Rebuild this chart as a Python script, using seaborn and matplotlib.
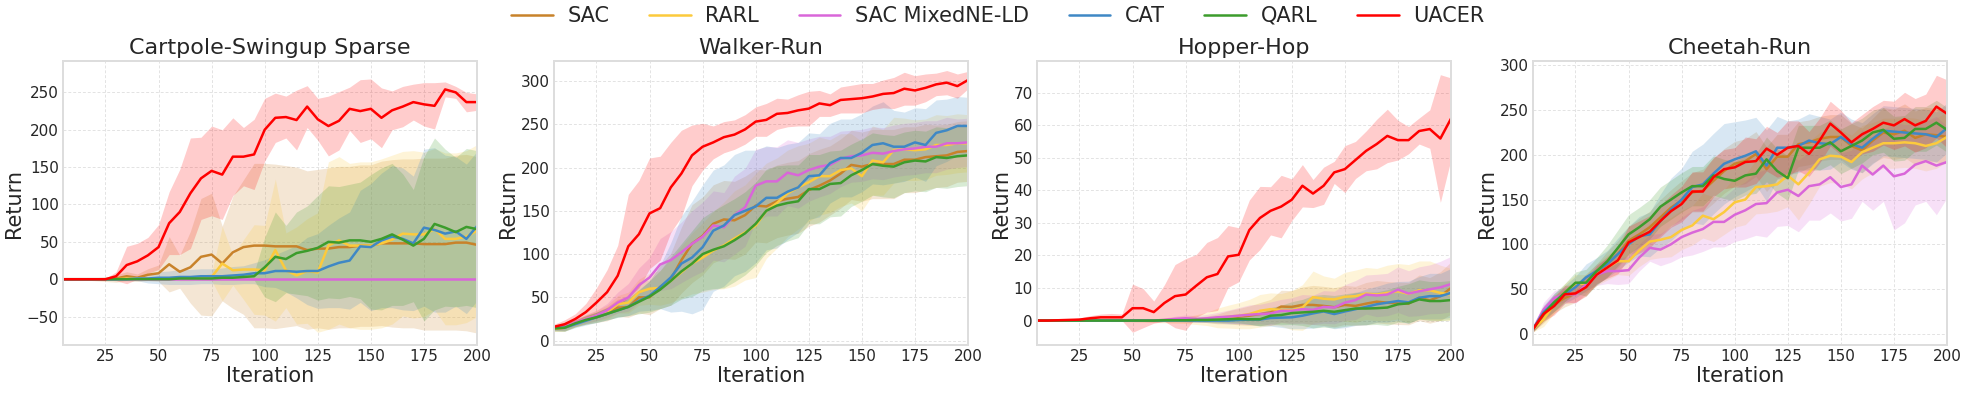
import numpy as np
import seaborn as sns
import matplotlib.pyplot as plt

# iterations (every 5)
iters = list(range(5, 205, 5))

methods = ["SAC", "RARL", "SAC MixedNE-LD", "CAT", "QARL", "UACER"]
colors = ["#c8822a", "#fcca3c", "#d966d9", "#3f88c5", "#3c9c2c", "#ff0000"]

# Cartpole-Swingup Sparse
cp_sac = [0, 0, 0, 0, 0, 1, 4, 2, 6, 8, 20, 10, 16, 30, 33, 21, 36, 43, 45, 45,
          44, 44, 44, 39, 41, 41, 43, 43, 45, 45, 48, 48, 48, 48, 47, 47, 47, 49, 49, 46]
cp_sac_sd = [0, 1, 1, 2, 3, 5, 6, 5, 8, 11, 37, 22, 48, 78, 82, 50, 75, 90, 110, 110,
             110, 108, 106, 106, 106, 108, 108, 108, 108, 108, 110, 112, 113, 113, 115, 115, 115, 117, 118, 118]
cp_rarl = [0, 0, 0, 0, 0, 0, 1, 1, 1, 1, 1, 1, 1, 2, 3, 21, 12, 13, 13, 12,
           39, 12, 5, 11, 9, 45, 52, 45, 45, 45, 48, 53, 61, 60, 60, 67, 54, 54, 57, 65]
cp_rarl_sd = [0, 0, 0, 0, 0, 1, 1, 1, 2, 2, 2, 3, 3, 3, 5, 50, 20, 40, 60, 60,
              95, 50, 65, 70, 80, 112, 112, 110, 112, 112, 113, 113, 110, 112, 110, 108, 115, 115, 115, 115]
cp_mix = [0] * 40
cp_mix_sd = [0] * 40
cp_cat = [0, 0, 0, 0, 0, 0, 0, 1, 1, 2, 2, 3, 3, 4, 4, 4, 5, 6, 8, 8,
          11, 11, 10, 11, 11, 17, 22, 25, 44, 43, 52, 57, 54, 48, 69, 66, 61, 64, 54, 71]
cp_cat_sd = [0, 0, 0, 0, 0, 1, 2, 3, 6, 8, 9, 10, 10, 10, 10, 11, 12, 12, 14, 18,
             22, 28, 35, 45, 50, 55, 60, 65, 75, 85, 90, 95, 95, 90, 105, 110, 105, 100, 100, 100]
cp_qarl = [0, 0, 0, 0, 0, 0, 0, 0, 0, 0, 0, 1, 1, 1, 1, 2, 2, 3, 4, 16,
           30, 27, 35, 38, 42, 50, 49, 52, 52, 50, 54, 60, 53, 45, 54, 74, 69, 63, 70, 67]
cp_qarl_sd = [0, 0, 0, 0, 0, 0, 0, 0, 1, 1, 1, 1, 1, 2, 2, 2, 2, 3, 5, 40,
              60, 45, 55, 60, 70, 75, 75, 75, 78, 90, 95, 95, 88, 75, 110, 115, 105, 100, 105, 105]
cp_uacer = [0, 0, 0, 0, 0, 4, 19, 24, 32, 43, 75, 90, 115, 135, 145, 140, 164, 164, 167, 200,
            216, 217, 213, 231, 214, 205, 212, 228, 225, 228, 216, 226, 231, 237, 234, 232, 254, 250, 237, 237]
cp_uacer_sd = [0, 0, 0, 1, 1, 6, 25, 24, 24, 30, 42, 57, 74, 55, 60, 60, 52, 39, 47, 42,
               33, 28, 40, 28, 28, 40, 39, 29, 42, 40, 40, 26, 27, 24, 29, 31, 10, 8, 13, 11]

# Walker-Run
wr_sac = [14, 15, 20, 24, 27, 31, 38, 39, 50, 50, 62, 71, 93, 112, 121, 135, 140, 139, 145, 156,
          155, 161, 164, 166, 174, 179, 185, 193, 203, 201, 204, 204, 204, 209, 209, 212, 213, 214, 218, 219]
wr_sac_sd = [3, 4, 4, 5, 6, 8, 10, 12, 18, 20, 25, 30, 38, 45, 45, 45, 45, 45, 45, 42,
             42, 42, 42, 42, 42, 42, 40, 40, 40, 40, 40, 40, 40, 38, 38, 38, 36, 36, 35, 35]
wr_rarl = [14, 15, 20, 25, 29, 33, 42, 44, 56, 60, 61, 69, 79, 89, 96, 104, 110, 118, 125, 133,
           150, 159, 170, 177, 183, 190, 190, 197, 199, 190, 208, 206, 220, 221, 220, 221, 226, 226, 228, 228]
wr_rarl_sd = [3, 4, 4, 5, 6, 8, 10, 12, 15, 18, 20, 25, 30, 35, 40, 45, 50, 55, 55, 60,
              55, 52, 50, 48, 45, 45, 42, 42, 40, 40, 40, 38, 38, 36, 35, 35, 35, 34, 34, 33]
wr_mix = [15, 16, 21, 25, 29, 35, 44, 50, 64, 73, 88, 93, 102, 112, 120, 133, 131, 145, 154, 179,
          184, 184, 194, 191, 197, 201, 203, 210, 213, 214, 217, 216, 219, 221, 222, 224, 224, 228, 228, 229]
wr_mix_sd = [3, 4, 4, 5, 6, 8, 12, 16, 20, 23, 30, 33, 35, 38, 40, 40, 40, 45, 45, 42,
             40, 40, 38, 38, 36, 35, 33, 32, 30, 30, 30, 30, 30, 30, 30, 30, 30, 30, 28, 28]
wr_cat = [15, 15, 19, 23, 27, 31, 35, 39, 46, 52, 62, 73, 89, 96, 108, 127, 133, 145, 150, 155,
          165, 165, 172, 177, 190, 191, 205, 211, 211, 217, 226, 228, 224, 224, 229, 226, 240, 243, 248, 248]
wr_cat_sd = [3, 4, 4, 5, 6, 7, 8, 10, 12, 17, 25, 40, 55, 65, 72, 70, 70, 70, 70, 65,
             60, 58, 55, 52, 50, 48, 46, 45, 45, 45, 45, 48, 42, 40, 40, 42, 38, 36, 34, 33]
wr_qarl = [14, 15, 20, 24, 27, 31, 35, 39, 45, 51, 59, 69, 80, 89, 100, 105, 109, 116, 124, 135,
           150, 156, 159, 161, 175, 175, 181, 182, 191, 197, 204, 202, 201, 206, 208, 207, 212, 211, 213, 214]
wr_qarl_sd = [3, 4, 4, 5, 6, 7, 8, 10, 14, 18, 22, 28, 32, 38, 42, 45, 48, 48, 48, 48,
              48, 46, 44, 42, 40, 40, 38, 38, 36, 36, 36, 36, 36, 35, 35, 35, 35, 35, 35, 35]
wr_uacer = [16, 19, 25, 33, 44, 56, 75, 109, 123, 147, 153, 177, 193, 214, 224, 229, 235, 238, 244, 253,
            255, 262, 263, 266, 268, 274, 272, 278, 279, 280, 282, 285, 286, 291, 289, 292, 296, 298, 294, 301]
wr_uacer_sd = [3, 5, 6, 10, 17, 26, 35, 60, 62, 64, 60, 52, 50, 35, 27, 19, 18, 17, 17, 17,
               19, 18, 16, 18, 20, 15, 13, 15, 16, 17, 15, 16, 18, 19, 17, 16, 13, 14, 14, 10]

# Hopper-Hop
hh_sac = [0, 0, 0, 0, 0, 0, 0, 0, 0, 0, 0, 0, 0.1, 0.2, 0.3, 0.3, 0.4, 0.5, 1, 1.2,
          1.5, 2, 2.5, 4.3, 4.2, 4.8, 4.8, 4.5, 4.1, 4.8, 4.5, 5.2, 5.8, 5.5, 5.3, 5.2, 7, 6.2, 7.5, 10]
hh_sac_sd = [0, 0, 0, 0, 0, 0.1, 0.1, 0.2, 0.2, 0.3, 0.3, 0.4, 0.5, 0.6, 0.7, 0.8, 1, 1.5, 2, 2.5,
             3, 3.5, 4, 5, 5, 5.5, 6, 6, 6, 6, 6, 6.5, 6.5, 6.5, 6.5, 6.5, 7, 7, 7.5, 8]
hh_rarl = [0, 0, 0, 0, 0, 0, 0, 0, 0, 0, 0, 0, 0, 0, 0.1, 0.3, 0.5, 0.8, 1.2, 1.5,
           2, 3, 3.5, 3.3, 3.2, 4, 7.2, 6.7, 6.5, 7.3, 7.5, 8.3, 8, 8.5, 9, 8.2, 9.3, 9.3, 8.5, 8]
hh_rarl_sd = [0, 0, 0, 0.1, 0.1, 0.2, 0.2, 0.3, 0.3, 0.4, 0.5, 0.6, 0.7, 0.8, 1, 1.5, 2, 3, 3.5, 4,
              4.5, 5, 5, 5, 6, 7, 8, 7, 6.5, 7.5, 8, 8, 8, 8.5, 8.5, 9, 9, 9, 8.5, 8]
hh_mix = [0, 0, 0, 0, 0, 0, 0, 0, 0, 0, 0, 0, 0.2, 0.5, 0.7, 0.5, 0.7, 1, 1.2, 1.5,
          1.8, 2, 2.2, 3, 3, 3.5, 3.3, 4.2, 4, 5.5, 6.3, 8, 7.7, 8, 9.5, 8.3, 9, 9.6, 10.2, 11.2]
hh_mix_sd = [0, 0, 0, 0, 0, 0.1, 0.1, 0.2, 0.2, 0.3, 0.3, 0.5, 0.6, 0.8, 1, 1, 1.2, 1.5, 2, 2.5,
             3, 3, 3.5, 3.5, 4, 4.5, 4.5, 5, 5, 5.5, 6, 6, 6.5, 6.5, 7, 7, 7.5, 7.5, 8, 8.5]
hh_cat = [0, 0, 0, 0, 0, 0, 0, 0, 0, 0, 0, 0, 0, 0, 0, 0, 0, 0, 0, 0.2,
          0.3, 0.3, 0.8, 0.9, 1, 1.5, 2.2, 2.8, 2, 2.8, 3.5, 4.2, 5, 5.5, 6, 5.6, 7, 7.5, 7.5, 8.5]
hh_cat_sd = [0, 0, 0, 0, 0, 0, 0, 0, 0.1, 0.1, 0.2, 0.2, 0.3, 0.3, 0.4, 0.5, 0.6, 0.8, 1, 1.2,
             1.5, 2, 2.5, 3, 3.5, 4, 4.5, 4.5, 4.5, 5, 5, 5.5, 5.5, 6, 6, 6.5, 6.5, 7, 7, 7.5]
hh_qarl = [0, 0, 0, 0, 0, 0, 0, 0, 0, 0, 0, 0, 0.1, 0.1, 0.1, 0.2, 0.2, 0.3, 0.4, 0.5,
           0.4, 0.4, 1.5, 1.7, 2.3, 2.5, 2.7, 3, 2.7, 3.2, 3.7, 3.7, 3.8, 4, 5, 5.3, 6.5, 6, 6, 6.3]
hh_qarl_sd = [0, 0, 0, 0, 0, 0, 0, 0, 0.1, 0.1, 0.2, 0.2, 0.3, 0.3, 0.4, 0.5, 0.6, 0.8, 1, 1.2,
              1.5, 2, 2.5, 3, 3.5, 4, 5, 5, 5, 5, 5, 5, 5, 5.5, 5.5, 6, 6, 6, 6, 6]
hh_uacer = [0, 0, 0.1, 0.2, 0.3, 0.7, 1, 1, 1, 3.8, 3.8, 2.6, 5.4, 7.5, 8, 10.7, 13.3, 14.3, 19.7, 20.2,
            27.8, 31.5, 33.7, 35, 37.1, 41.4, 39, 41.4, 45.5, 46.5, 49.3, 52.1, 54.2, 56.7, 55.4, 55.4, 58.2, 58.8, 55.9, 62]
hh_uacer_sd = [0, 0.1, 0.2, 0.3, 0.5, 0.8, 1, 1.2, 1, 7.4, 6, 3.4, 5.6, 9.7, 11, 9.6, 10.7, 11.2, 9.5, 8.3,
               9.2, 9.7, 7.4, 9.6, 6.4, 6.5, 4.3, 5.7, 3.4, 7.2, 5.7, 6.1, 7.6, 8.2, 6.1, 4.2, 4, 5.9, 19.6, 12.5]

# Cheetah-Run
ch_sac = [5, 20, 33, 40, 45, 55, 66, 78, 89, 104, 111, 119, 130, 141, 149, 158, 160, 171, 182, 190,
          193, 201, 184, 198, 198, 212, 214, 218, 220, 220, 210, 205, 216, 225, 223, 227, 219, 223, 222, 220]
ch_sac_sd = [3, 8, 10, 10, 10, 12, 12, 14, 15, 16, 18, 18, 20, 20, 22, 22, 24, 25, 25, 25,
             25, 25, 25, 25, 25, 25, 25, 25, 25, 25, 25, 25, 25, 28, 28, 30, 30, 30, 30, 30]
ch_rarl = [5, 16, 33, 46, 56, 56, 66, 74, 81, 81, 93, 103, 105, 108, 116, 121, 132, 128, 136, 147,
           150, 164, 165, 167, 177, 167, 180, 195, 199, 198, 192, 203, 208, 213, 213, 214, 213, 210, 213, 220]
ch_rarl_sd = [3, 8, 10, 10, 10, 10, 12, 14, 15, 16, 18, 20, 20, 22, 22, 22, 25, 25, 25, 28,
              28, 30, 30, 30, 35, 40, 35, 30, 30, 30, 30, 30, 28, 28, 28, 28, 28, 28, 28, 28]
ch_mix = [5, 27, 40, 44, 44, 55, 66, 70, 70, 71, 85, 96, 94, 100, 108, 113, 117, 125, 125, 133,
          138, 145, 146, 158, 161, 154, 165, 167, 175, 164, 167, 188, 178, 188, 176, 179, 189, 193, 188, 192]
ch_mix_sd = [3, 8, 8, 8, 10, 10, 12, 14, 15, 15, 15, 15, 18, 20, 22, 25, 25, 28, 28, 30,
             32, 35, 38, 38, 40, 40, 38, 40, 40, 38, 38, 40, 40, 40, 60, 55, 45, 45, 55, 40]
ch_cat = [5, 24, 35, 44, 52, 63, 70, 78, 89, 100, 109, 111, 126, 139, 150, 164, 167, 179, 190, 195,
          199, 204, 188, 208, 208, 210, 216, 213, 212, 220, 212, 208, 218, 227, 226, 225, 224, 223, 220, 230]
ch_cat_sd = [3, 8, 10, 10, 12, 15, 15, 15, 18, 20, 22, 25, 30, 35, 35, 40, 45, 45, 45, 42,
             40, 38, 40, 35, 30, 30, 30, 30, 28, 28, 28, 28, 28, 28, 28, 28, 28, 28, 28, 28]
ch_qarl = [5, 22, 35, 46, 57, 57, 70, 81, 96, 111, 119, 128, 142, 150, 158, 165, 165, 177, 173, 171,
           177, 179, 195, 182, 174, 208, 208, 208, 214, 204, 210, 216, 225, 228, 218, 219, 229, 229, 236, 228]
ch_qarl_sd = [3, 8, 10, 10, 12, 15, 15, 18, 20, 22, 22, 22, 22, 22, 22, 22, 22, 22, 22, 22,
              22, 22, 25, 25, 25, 25, 25, 25, 25, 25, 25, 25, 25, 25, 25, 25, 25, 25, 25, 25]
ch_uacer = [5, 22, 31, 44, 45, 52, 66, 74, 82, 102, 108, 114, 126, 137, 145, 159, 159, 175, 184, 186,
            192, 193, 207, 200, 208, 210, 201, 216, 235, 225, 214, 223, 229, 236, 233, 240, 233, 238, 254, 246]
ch_uacer_sd = [3, 8, 10, 10, 10, 10, 10, 12, 15, 18, 18, 18, 18, 18, 20, 22, 22, 22, 22, 22,
               28, 25, 25, 25, 30, 28, 25, 25, 25, 25, 22, 22, 25, 25, 27, 30, 30, 30, 35, 38]

panels = [
    ("Cartpole-Swingup Sparse", [(cp_sac, cp_sac_sd), (cp_rarl, cp_rarl_sd), (cp_mix, cp_mix_sd),
                                 (cp_cat, cp_cat_sd), (cp_qarl, cp_qarl_sd), (cp_uacer, cp_uacer_sd)],
     (-88, 292), [-50, 0, 50, 100, 150, 200, 250]),
    ("Walker-Run", [(wr_sac, wr_sac_sd), (wr_rarl, wr_rarl_sd), (wr_mix, wr_mix_sd),
                    (wr_cat, wr_cat_sd), (wr_qarl, wr_qarl_sd), (wr_uacer, wr_uacer_sd)],
     (-5, 323), [0, 50, 100, 150, 200, 250, 300]),
    ("Hopper-Hop", [(hh_sac, hh_sac_sd), (hh_rarl, hh_rarl_sd), (hh_mix, hh_mix_sd),
                    (hh_cat, hh_cat_sd), (hh_qarl, hh_qarl_sd), (hh_uacer, hh_uacer_sd)],
     (-7.5, 79.7), [0, 10, 20, 30, 40, 50, 60, 70]),
    ("Cheetah-Run", [(ch_sac, ch_sac_sd), (ch_rarl, ch_rarl_sd), (ch_mix, ch_mix_sd),
                     (ch_cat, ch_cat_sd), (ch_qarl, ch_qarl_sd), (ch_uacer, ch_uacer_sd)],
     (-12.7, 305), [0, 50, 100, 150, 200, 250, 300]),
]

sns.set_style("whitegrid")
plt.rcParams["font.family"] = ["DejaVu Sans"]

fig = plt.figure(figsize=(19.72, 3.95), dpi=100)
lefts = [63, 554, 1037, 1533]

for left, (title, series, ylim, yticks) in zip(lefts, panels):
    ax = fig.add_axes([left / 1972, 1 - 345 / 395, 414 / 1972, 284 / 395])
    for name, col, (mean, sd) in zip(methods, colors, series):
        m = np.array(mean, dtype=float)
        s = np.array(sd, dtype=float)
        ax.fill_between(iters, m - s, m + s, color=col, alpha=0.2, linewidth=0)
        sns.lineplot(x=iters, y=m, ax=ax, color=col, linewidth=1.8, label=name)
    ax.set_xlim(5, 200)
    ax.set_ylim(*ylim)
    ax.set_xticks([25, 50, 75, 100, 125, 150, 175, 200])
    ax.set_yticks(yticks)
    ax.tick_params(labelsize=11, colors="#262626", length=0, pad=3)
    ax.grid(True, linestyle=(0, (3, 2)), color="#e3e3e3", linewidth=0.7)
    for sp in ax.spines.values():
        sp.set_color("#dddddd")
        sp.set_linewidth(1.4)
    ax.set_title(title, fontsize=16, color="#262626", pad=5)
    ax.set_xlabel("Iteration", fontsize=15, color="#262626", labelpad=1)
    ax.set_ylabel("Return", fontsize=15, color="#262626", labelpad=2)
    handles, labels = ax.get_legend_handles_labels()
    ax.get_legend().remove()

fig.legend(handles, labels, loc="center", bbox_to_anchor=(0.506, 0.96), ncol=6,
           frameon=False, fontsize=15, handlelength=2.0, handletextpad=0.7,
           columnspacing=1.9)

fig.savefig("out.png", dpi=100)
